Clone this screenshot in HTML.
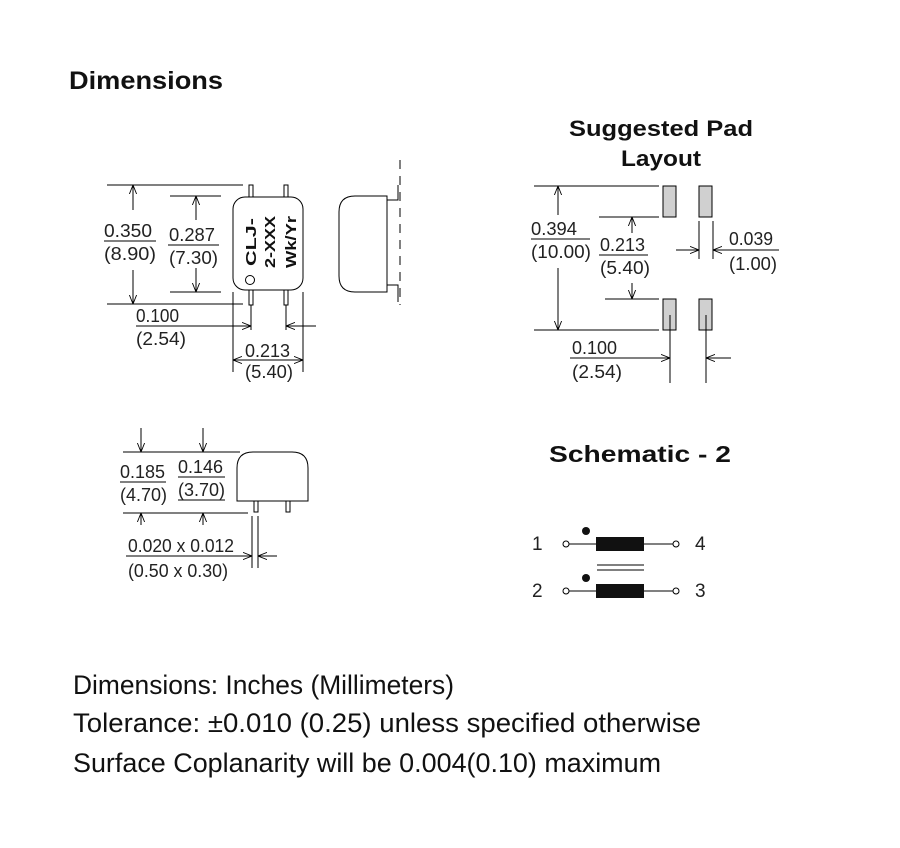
<!DOCTYPE html>
<html><head><meta charset="utf-8"><style>body{margin:0;background:#fff}svg{display:block}</style></head><body>
<svg width="900" height="848" viewBox="0 0 900 848" xmlns="http://www.w3.org/2000/svg" font-family="Liberation Sans, sans-serif">
<defs>
<marker id="a" viewBox="0 0 10 10" refX="10" refY="5" markerWidth="9" markerHeight="9" orient="auto-start-reverse" markerUnits="userSpaceOnUse"><path d="M0,1 L10,5 L0,9" fill="none" stroke="#000" stroke-width="1"/></marker>
</defs>
<g fill="#111">
<text x="69" y="89" font-size="25" font-weight="bold" textLength="154" lengthAdjust="spacingAndGlyphs">Dimensions</text>
<text x="661" y="136" font-size="22" font-weight="bold" text-anchor="middle" textLength="184" lengthAdjust="spacingAndGlyphs">Suggested Pad</text>
<text x="661" y="166" font-size="22" font-weight="bold" text-anchor="middle" textLength="80" lengthAdjust="spacingAndGlyphs">Layout</text>
<text x="549" y="462" font-size="23" font-weight="bold" textLength="182" lengthAdjust="spacingAndGlyphs">Schematic - 2</text>
<text x="73" y="694" font-size="27" textLength="381" lengthAdjust="spacingAndGlyphs">Dimensions: Inches (Millimeters)</text>
<text x="73" y="732" font-size="27" textLength="628" lengthAdjust="spacingAndGlyphs">Tolerance: ±0.010 (0.25) unless specified otherwise</text>
<text x="73" y="772" font-size="27" textLength="588" lengthAdjust="spacingAndGlyphs">Surface Coplanarity will be 0.004(0.10) maximum</text>
</g>
<g stroke="#000" stroke-width="1" fill="none">
<line x1="107" y1="185" x2="243" y2="185"/><line x1="107" y1="304" x2="243" y2="304"/>
<line x1="133" y1="185" x2="133" y2="210" marker-start="url(#a)"/><line x1="133" y1="270" x2="133" y2="304" marker-end="url(#a)"/>
<line x1="170" y1="196" x2="221" y2="196"/><line x1="170" y1="292" x2="221" y2="292"/>
<line x1="196" y1="196" x2="196" y2="220" marker-start="url(#a)"/><line x1="196" y1="268" x2="196" y2="292" marker-end="url(#a)"/>
<line x1="104" y1="241" x2="156" y2="241"/><line x1="168" y1="245" x2="219" y2="245"/>
<rect x="233" y="197" width="70" height="93" rx="12"/>
<rect x="249" y="185" width="4" height="12"/><rect x="284" y="185" width="4" height="12"/>
<rect x="249" y="290" width="4" height="15"/><rect x="284" y="290" width="4" height="15"/>
<circle cx="250" cy="280" r="4.5"/>
<line x1="233" y1="292" x2="233" y2="372"/><line x1="303" y1="292" x2="303" y2="372"/>
<line x1="251" y1="305" x2="251" y2="330"/><line x1="286" y1="305" x2="286" y2="330"/>
<line x1="136" y1="326" x2="251" y2="326" marker-end="url(#a)"/><line x1="316" y1="326" x2="286" y2="326" marker-end="url(#a)"/>
<line x1="233" y1="360" x2="303" y2="360" marker-start="url(#a)" marker-end="url(#a)"/>
<path d="M387,196 L355,196 Q339,196 339,212 L339,276 Q339,292 355,292 L387,292 Z"/>
<path d="M387,200 L398,200 L398,185 M387,285 L398,285 L398,302"/>
<line x1="400" y1="160" x2="400" y2="305" stroke-dasharray="9,7"/>
<line x1="534" y1="186" x2="659" y2="186"/><line x1="534" y1="330" x2="659" y2="330"/>
<line x1="558" y1="186" x2="558" y2="215" marker-start="url(#a)"/><line x1="558" y1="268" x2="558" y2="330" marker-end="url(#a)"/>
<line x1="531" y1="239" x2="590" y2="239"/><line x1="599" y1="255" x2="648" y2="255"/>
<line x1="599" y1="217" x2="659" y2="217"/><line x1="605" y1="299" x2="659" y2="299"/>
<line x1="632" y1="217" x2="632" y2="233" marker-start="url(#a)"/><line x1="632" y1="283" x2="632" y2="299" marker-end="url(#a)"/>
<g fill="#d0d0d0"><rect x="663" y="186" width="13" height="31"/><rect x="699" y="186" width="13" height="31"/><rect x="663" y="299" width="13" height="31"/><rect x="699" y="299" width="13" height="31"/></g>
<line x1="699" y1="221" x2="699" y2="259"/><line x1="713" y1="221" x2="713" y2="259"/>
<line x1="676" y1="250" x2="699" y2="250" marker-end="url(#a)"/><line x1="779" y1="250" x2="713" y2="250" marker-end="url(#a)"/>
<line x1="670" y1="315" x2="670" y2="383"/><line x1="706" y1="315" x2="706" y2="383"/>
<line x1="570" y1="358" x2="670" y2="358" marker-end="url(#a)"/><line x1="731" y1="358" x2="706" y2="358" marker-end="url(#a)"/>
<line x1="123" y1="452" x2="240" y2="452"/><line x1="123" y1="513" x2="248" y2="513"/>
<line x1="141" y1="428" x2="141" y2="452" marker-end="url(#a)"/><line x1="203" y1="428" x2="203" y2="452" marker-end="url(#a)"/>
<line x1="141" y1="525" x2="141" y2="513" marker-end="url(#a)"/><line x1="203" y1="525" x2="203" y2="513" marker-end="url(#a)"/>
<line x1="120" y1="482" x2="166" y2="482"/><line x1="178" y1="477" x2="225" y2="477"/><line x1="178" y1="500" x2="225" y2="500"/>
<path d="M237,501 L237,468 Q237,452 253,452 L292,452 Q308,452 308,468 L308,501 Z"/>
<rect x="254" y="501" width="4" height="11"/><rect x="286" y="501" width="4" height="11"/>
<line x1="252" y1="516" x2="252" y2="568"/><line x1="258" y1="516" x2="258" y2="568"/>
<line x1="230" y1="556" x2="252" y2="556" marker-end="url(#a)"/><line x1="277" y1="556" x2="258" y2="556" marker-end="url(#a)"/>
<line x1="126" y1="556" x2="232" y2="556"/>
<line x1="569" y1="544" x2="673" y2="544"/><line x1="569" y1="591" x2="673" y2="591"/>
<circle cx="566" cy="544" r="3" fill="#fff"/><circle cx="676" cy="544" r="3" fill="#fff"/>
<circle cx="566" cy="591" r="3" fill="#fff"/><circle cx="676" cy="591" r="3" fill="#fff"/>
<line x1="597" y1="565" x2="644" y2="565"/><line x1="597" y1="570" x2="644" y2="570"/>
</g>
<g fill="#111">
<rect x="596" y="537" width="48" height="14"/><rect x="596" y="584" width="48" height="14"/>
<circle cx="586" cy="531" r="4"/><circle cx="586" cy="578" r="4"/>
</g>
<g fill="#222" font-size="18">
<text x="104" y="237" textLength="48" lengthAdjust="spacingAndGlyphs">0.350</text><text x="104" y="260" textLength="52" lengthAdjust="spacingAndGlyphs">(8.90)</text>
<text x="169" y="241" textLength="46" lengthAdjust="spacingAndGlyphs">0.287</text><text x="169" y="264" textLength="49" lengthAdjust="spacingAndGlyphs">(7.30)</text>
<text x="136" y="322" textLength="43" lengthAdjust="spacingAndGlyphs">0.100</text><text x="136" y="345" textLength="50" lengthAdjust="spacingAndGlyphs">(2.54)</text>
<text x="245" y="357" textLength="45" lengthAdjust="spacingAndGlyphs">0.213</text><text x="245" y="378" textLength="48" lengthAdjust="spacingAndGlyphs">(5.40)</text>
<text x="531" y="235" textLength="46" lengthAdjust="spacingAndGlyphs">0.394</text><text x="531" y="258" textLength="60" lengthAdjust="spacingAndGlyphs">(10.00)</text>
<text x="600" y="251" textLength="45" lengthAdjust="spacingAndGlyphs">0.213</text><text x="600" y="274" textLength="50" lengthAdjust="spacingAndGlyphs">(5.40)</text>
<text x="729" y="245" textLength="44" lengthAdjust="spacingAndGlyphs">0.039</text><text x="729" y="270" textLength="48" lengthAdjust="spacingAndGlyphs">(1.00)</text>
<text x="572" y="354" textLength="45" lengthAdjust="spacingAndGlyphs">0.100</text><text x="572" y="378" textLength="50" lengthAdjust="spacingAndGlyphs">(2.54)</text>
<text x="120" y="478" textLength="45" lengthAdjust="spacingAndGlyphs">0.185</text><text x="120" y="501" textLength="47" lengthAdjust="spacingAndGlyphs">(4.70)</text>
<text x="178" y="473" textLength="45" lengthAdjust="spacingAndGlyphs">0.146</text><text x="178" y="496" textLength="47" lengthAdjust="spacingAndGlyphs">(3.70)</text>
<text x="128" y="552" textLength="106" lengthAdjust="spacingAndGlyphs">0.020 x 0.012</text><text x="128" y="577" textLength="100" lengthAdjust="spacingAndGlyphs">(0.50 x 0.30)</text>
<text x="532" y="550" font-size="19">1</text><text x="695" y="550" font-size="19">4</text>
<text x="532" y="597" font-size="19">2</text><text x="695" y="597" font-size="19">3</text>
</g>
<g fill="#111" font-size="15" font-weight="bold" text-anchor="middle">
<text transform="translate(256,242) rotate(-90)" textLength="48" lengthAdjust="spacingAndGlyphs">CLJ-</text>
<text transform="translate(275,242) rotate(-90)" textLength="52" lengthAdjust="spacingAndGlyphs">2-XXX</text>
<text transform="translate(296,242) rotate(-90)" textLength="52" lengthAdjust="spacingAndGlyphs">Wk/Yr</text>
</g>
</svg>
</body></html>
